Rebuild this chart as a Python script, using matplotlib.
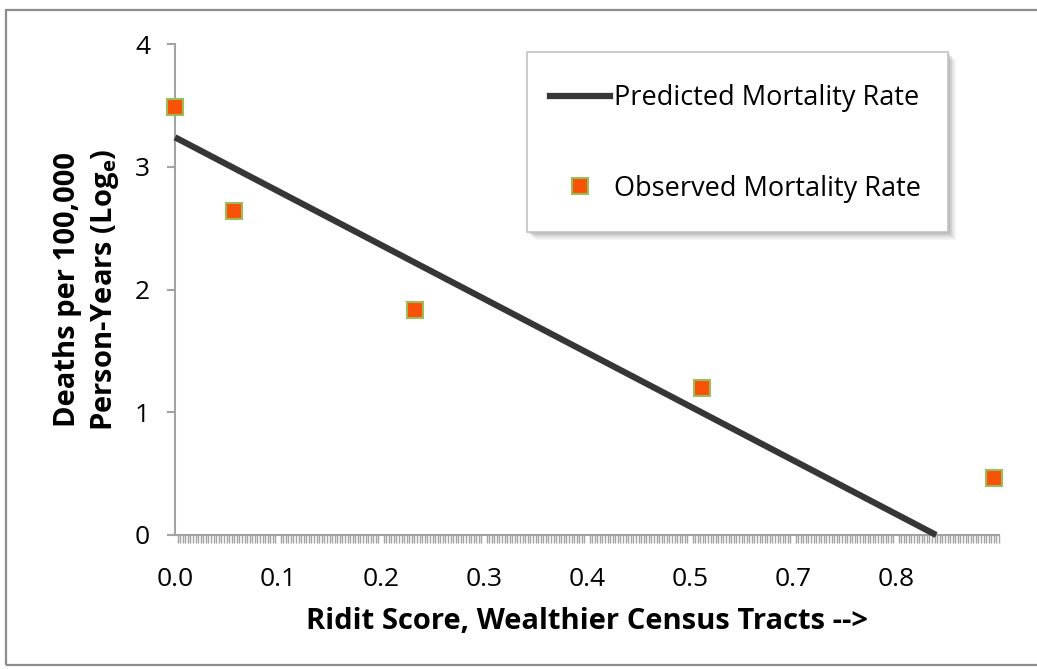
import matplotlib
matplotlib.use("Agg")
import matplotlib.pyplot as plt
from matplotlib.ticker import MultipleLocator, FixedLocator, FixedFormatter
from matplotlib.lines import Line2D
from matplotlib.patches import Rectangle

plt.rcParams['font.family'] = ['Open Sans', 'DejaVu Sans']

# observed rates by ridit score (log_e deaths per 100,000 person-years)
ridit_obs = [0.0, 0.057, 0.233, 0.512, 0.795]
rate_obs = [3.49, 2.64, 1.83, 1.20, 0.465]

# fitted line end points
ridit_pred = [0.0, 0.739]
rate_pred = [3.24, 0.0]

# axis labels as printed
tick_pos = [0.0, 0.1, 0.2, 0.3, 0.4, 0.5, 0.6, 0.7]
tick_txt = ['0.0', '0.1', '0.2', '0.3', '0.4', '0.5', '0.7', '0.8']
ytick_pos = [0, 1, 2, 3, 4]

W, H = 1037, 669
fig = plt.figure(figsize=(W / 100, H / 100), dpi=100)


def fig_rect(left, top, right, bottom, **kw):
    # rectangle given in pixel coords measured from the top-left corner
    r = Rectangle((left / W, 1 - bottom / H), (right - left) / W, (bottom - top) / H,
                  transform=fig.transFigure, **kw)
    fig.patches.append(r)
    return r


# outer frame
fig_rect(6, 10, 1250, 665, fill=False, edgecolor='#8c8c8c', linewidth=1.6)

# legend box with a soft drop shadow
for k, a in [(8, 0.10), (6, 0.15), (4, 0.22), (2, 0.30)]:
    fig_rect(527 + k, 52 + k, 948 + k, 232 + k, facecolor='#8a8a8a', edgecolor='none',
             alpha=a, zorder=5)
fig_rect(527, 52, 948, 232, facecolor='white', edgecolor='#c4c4c4', linewidth=1.2, zorder=6)

x0, x1 = 175, 999
ax = fig.add_axes([x0 / W, 1 - 535 / H, (x1 - x0) / W, (535 - 44) / H])
ax.set_xlim(0, 0.8)
ax.set_ylim(0, 4)
ax.patch.set_alpha(0)

ax.plot(ridit_pred, rate_pred, color='#363636', linewidth=4.5, solid_capstyle='butt',
        clip_on=False, zorder=3)
ax.plot(ridit_obs, rate_obs, linestyle='none', marker='s', markersize=11,
        markerfacecolor='#f85208', markeredgecolor='#9cbc5a', markeredgewidth=1.5,
        clip_on=False, zorder=4)

gray = '#a3a3a3'
for s in ['top', 'right']:
    ax.spines[s].set_visible(False)
for s in ['left', 'bottom']:
    ax.spines[s].set_color(gray)
    ax.spines[s].set_linewidth(1.5)

ax.xaxis.set_major_locator(FixedLocator(tick_pos))
ax.xaxis.set_major_formatter(FixedFormatter(tick_txt))
ax.xaxis.set_minor_locator(MultipleLocator(0.0025))
ax.tick_params(axis='x', which='major', length=0, pad=23, labelsize=19, colors='black')
ax.tick_params(axis='x', which='minor', length=5.5, width=1, color=gray, direction='out')

ax.yaxis.set_major_locator(FixedLocator(ytick_pos))
ax.tick_params(axis='y', which='major', length=6, width=1.5, color=gray, pad=12,
               labelsize=19, labelcolor='black')

ax.set_xlabel('Ridit Score, Wealthier Census Tracts -->', fontsize=21, fontweight='bold',
              labelpad=11)
ax.set_ylabel('Deaths per 100,000\nPerson-Years (Log$_\\mathregular{e}$)', fontsize=21,
              fontweight='bold', labelpad=10, linespacing=1.3)

handles = [Line2D([], [], color='#363636', linewidth=4.5),
           Line2D([], [], linestyle='none', marker='s', markersize=11,
                  markerfacecolor='#f85208', markeredgecolor='#9cbc5a', markeredgewidth=1.5)]
leg = fig.legend(handles, ['Predicted Mortality Rate', 'Observed Mortality Rate'],
                 loc='upper left', bbox_to_anchor=(550 / W, 1 - 84 / H),
                 fontsize=19.5, frameon=False, borderpad=0, labelspacing=2.32,
                 handlelength=2.2, handletextpad=0.15, borderaxespad=0)
leg.set_zorder(7)

fig.savefig('out.png', dpi=100)
